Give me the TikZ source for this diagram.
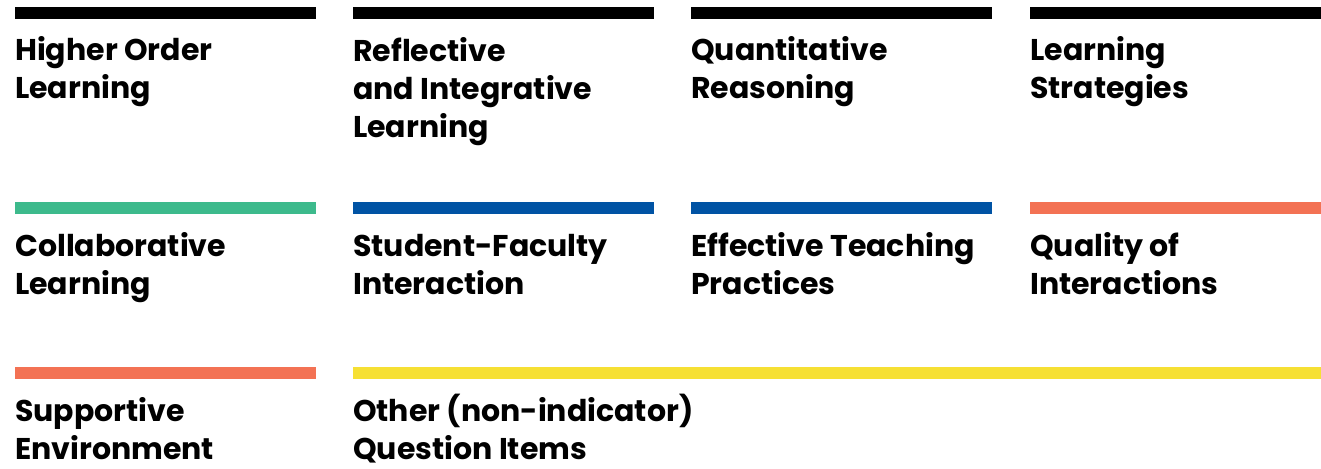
\documentclass[tikz,border=0pt]{standalone}
\usepackage{fontspec}
\setmainfont{Poppins}
\usetikzlibrary{positioning}
\definecolor{barblack}{HTML}{000000}
\definecolor{bargreen}{HTML}{3DBA8C}
\definecolor{barblue}{HTML}{0053A4}
\definecolor{barorange}{HTML}{F37254}
\definecolor{baryellow}{HTML}{F6E034}
\tikzset{
  {cat bar/.style} ={fill=#1},
  % anchored at the baseline of the last line
  {cat label/.style} ={anchor=base west, inner sep=0, align=left,
                       font=\fontsize{30}{38}\selectfont\bfseries},
}

\begin{document}
\begin{tikzpicture}[x=1pt,y=-1pt]
\useasboundingbox (0,0) rectangle (1321,468);

% row 1
\fill[cat bar=barblack] (15,7) rectangle (316,19);
\fill[cat bar=barblack] (353,7) rectangle (654,19);
\fill[cat bar=barblack] (691,7) rectangle (992,19);
\fill[cat bar=barblack] (1030,7) rectangle (1321,19);
\node[cat label] (higher) at (15,99) {Higher Order\\Learning};
\node[cat label] (reflective) at (353,137) {Reflective\\and Integrative\\Learning};
\node[cat label] (quant) at (691,99) {Quantitative\\Reasoning};
\node[cat label] (strategies) at (1030,99) {Learning\\Strategies};

% row 2
\fill[cat bar=bargreen] (15,202) rectangle (316,214);
\fill[cat bar=barblue] (353,202) rectangle (654,214);
\fill[cat bar=barblue] (691,202) rectangle (992,214);
\fill[cat bar=barorange] (1030,202) rectangle (1321,214);
\node[cat label] (collab) at (15,294) {Collaborative\\Learning};
\node[cat label] (faculty) at (353,294) {Student-Faculty\\Interaction};
\node[cat label] (teaching) at (691,294) {Effective Teaching\\Practices};
\node[cat label] (quality) at (1030,294) {Quality of\\Interactions};

% row 3
\fill[cat bar=barorange] (15,367) rectangle (316,379);
\fill[cat bar=baryellow] (353,367) rectangle (1321,379);
\node[cat label] (supportive) at (15,459) {Supportive\\Environment};
\node[cat label] (other) at (353,459) {Other (non-indicator)\\Question Items};
\end{tikzpicture}
\end{document}
